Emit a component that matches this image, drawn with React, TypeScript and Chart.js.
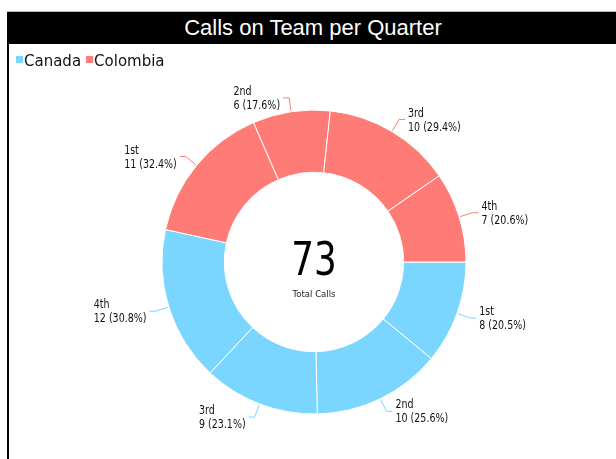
import React, { useEffect, useRef } from "react";
import { Chart, registerables } from "chart.js";

Chart.register(...registerables);

const TITLE = "Calls on Team per Quarter";
const GROUPS = ["Canada", "Colombia"];
const GROUP_COLORS = ["#7AD5FF", "#FF7B75"];
const QUARTERS = ["1st", "2nd", "3rd", "4th"];
const CANADA = [8, 10, 9, 12];
const COLOMBIA = [11, 6, 10, 7];
const CENTER_CAPTION = "Total Calls";

const SERIES = [CANADA, COLOMBIA];
const SLICE_LABELS: string[] = [];
const SLICE_VALUES: number[] = [];
const SLICE_GROUP: number[] = [];
SERIES.forEach((vals, g) => {
  vals.forEach((v, q) => {
    SLICE_LABELS.push(GROUPS[g] + " " + QUARTERS[q]);
    SLICE_VALUES.push(v);
    SLICE_GROUP.push(g);
  });
});
const GROUP_TOTALS = SERIES.map((vals) => vals.reduce((a, b) => a + b, 0));
const GRAND_TOTAL = GROUP_TOTALS.reduce((a, b) => a + b, 0);

const LABEL_FONT = '12px "DejaVu Sans Condensed", "DejaVu Sans"';
const LABEL_SQUISH = 0.88;

const outLabelsPlugin = {
  id: "outLabels",
  afterDatasetsDraw(chart: any) {
    const ctx = chart.ctx as CanvasRenderingContext2D;
    const meta = chart.getDatasetMeta(0);
    let cx = 0;
    let cy = 0;
    meta.data.forEach((arc: any, i: number) => {
      const { x, y, startAngle, endAngle, outerRadius } = arc.getProps(
        ["x", "y", "startAngle", "endAngle", "outerRadius"],
        true
      );
      cx = x;
      cy = y;
      const mid = (startAngle + endAngle) / 2;
      const c = Math.cos(mid);
      const s = Math.sin(mid);
      const g = SLICE_GROUP[i];
      const color = GROUP_COLORS[g];
      const p0x = x + c * (outerRadius + 1);
      const p0y = y + s * (outerRadius + 1);
      const p1x = x + c * (outerRadius + 14);
      const p1y = y + s * (outerRadius + 14);
      const right = c >= 0;
      const p2x = p1x + (right ? 6 : -6);
      const p2y = p1y;
      ctx.save();
      ctx.strokeStyle = color;
      ctx.lineWidth = 1;
      ctx.beginPath();
      ctx.moveTo(p0x, p0y);
      ctx.lineTo(p1x, p1y);
      ctx.lineTo(p2x, p2y);
      ctx.stroke();

      const q = i % QUARTERS.length;
      const v = SLICE_VALUES[i];
      const pct = ((v / GROUP_TOTALS[g]) * 100).toFixed(1);
      const lines = [QUARTERS[q], `${v} (${pct}%)`];
      ctx.font = LABEL_FONT;
      ctx.fillStyle = "#111";
      ctx.textBaseline = "middle";
      ctx.textAlign = "left";
      const w = Math.max(...lines.map((l) => ctx.measureText(l).width)) * LABEL_SQUISH;
      const tx = right ? p2x + 3 : p2x - 3 - w;
      ctx.translate(tx, p2y);
      ctx.scale(LABEL_SQUISH, 1);
      ctx.fillText(lines[0], 0, -6);
      ctx.fillText(lines[1], 0, 8);
      ctx.restore();
    });

    // center text
    ctx.save();
    ctx.textAlign = "center";
    ctx.textBaseline = "middle";
    ctx.fillStyle = "#000";
    ctx.font = '47px "DejaVu Sans"';
    ctx.translate(cx, cy + 1);
    ctx.scale(0.76, 1);
    ctx.fillText(String(GRAND_TOTAL), 0, 0);
    ctx.restore();
    ctx.save();
    ctx.textAlign = "center";
    ctx.textBaseline = "middle";
    ctx.fillStyle = "#222";
    ctx.font = '8.5px "DejaVu Sans"';
    ctx.fillText(CENTER_CAPTION, cx, cy + 33);
    ctx.restore();

    // legend
    ctx.save();
    ctx.font = '15px "DejaVu Sans"';
    ctx.textBaseline = "middle";
    ctx.textAlign = "left";
    let lx = 7;
    const ly = 18;
    GROUPS.forEach((name, gi) => {
      ctx.fillStyle = GROUP_COLORS[gi];
      ctx.fillRect(lx, ly - 6, 7, 7);
      ctx.fillStyle = "#111";
      ctx.fillText(name, lx + 8, ly);
      lx += 8 + ctx.measureText(name).width + 5;
    });
    ctx.restore();
  },
};

export default function App() {
  const ref = useRef<HTMLCanvasElement | null>(null);
  useEffect(() => {
    if (!ref.current) return;
    const chart = new Chart(ref.current, {
      type: "doughnut",
      data: {
        labels: SLICE_LABELS,
        datasets: [
          {
            data: SLICE_VALUES,
            backgroundColor: SLICE_GROUP.map((g) => GROUP_COLORS[g]),
            borderColor: "#ffffff",
            borderWidth: 1,
          },
        ],
      },
      options: {
        responsive: false,
        animation: false,
        rotation: 90,
        cutout: "59%",
        radius: 152,
        layout: { padding: { top: 35 } },
        plugins: {
          legend: { display: false },
          title: { display: false },
          tooltip: { enabled: false },
        },
      },
      plugins: [outLabelsPlugin],
    });
    return () => chart.destroy();
  }, []);

  return (
    <div
      style={{
        position: "fixed",
        left: 7,
        top: 11,
        width: 612,
        height: 460,
        overflow: "hidden",
        background: "#fff",
      }}
    >
      <div
        style={{
          height: 32,
          background: "#000",
          color: "#fff",
          borderTop: "1px solid #bbb",
          font: '22px "Liberation Sans", Arial, sans-serif',
          textAlign: "center",
          lineHeight: "32px",
        }}
      >
        {TITLE}
      </div>
      <div
        style={{
          position: "absolute",
          left: 0,
          top: 33,
          width: 2,
          height: 430,
          background: "#000",
        }}
      />
      <canvas
        ref={ref}
        width={610}
        height={401}
        style={{ position: "absolute", left: 2, top: 33, display: "block" }}
      />
    </div>
  );
}
